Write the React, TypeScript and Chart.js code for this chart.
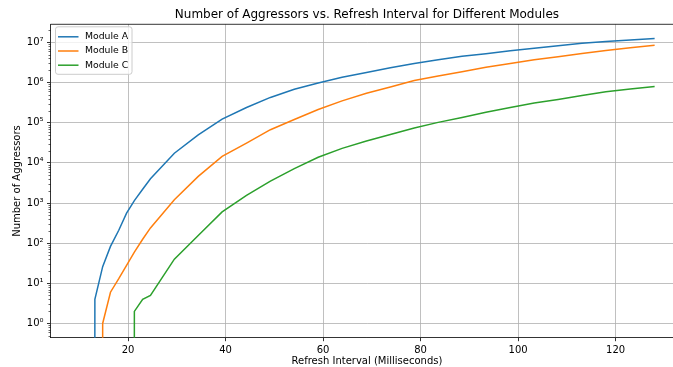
import React, { useEffect, useRef } from "react";
import { Chart, registerables } from "chart.js";

Chart.register(...registerables);

// ---- data ----
const refreshIntervals = [
  10, 11.6, 13.2, 14.8, 16.4, 18.1, 19.7, 21.3, 23.0, 24.6, 29.5, 34.4, 39.3, 44.3, 49.2,
  54.1, 59.0, 63.9, 68.9, 73.8, 78.7, 83.6, 88.5, 93.4, 98.4, 103.3, 108.2, 113.1, 118.0,
  123.0, 128.0,
];
const moduleA = [
  0, 0, 4, 26, 83, 210, 560, 1150, 2200, 4000, 17400, 50000, 123000, 240000, 427000,
  680000, 980000, 1350000, 1780000, 2340000, 3000000, 3700000, 4500000, 5200000, 6200000,
  7200000, 8300000, 9500000, 10500000, 11500000, 12500000,
];
const moduleB = [
  0, 0, 0, 1, 6, 13, 28, 60, 125, 240, 1200, 4600, 14500, 31000, 67000,
  120000, 214000, 350000, 540000, 780000, 1120000, 1450000, 1850000, 2400000, 3000000,
  3700000, 4400000, 5300000, 6300000, 7400000, 8500000,
];
const moduleC = [
  0, 0, 0, 0, 0, 0, 0, 2, 4, 5, 40, 155, 600, 1550, 3500,
  7200, 13800, 23000, 35000, 51000, 74000, 102000, 135000, 182000, 240000,
  309000, 380000, 475000, 590000, 690000, 800000,
];
const seriesLabels = ["Module A", "Module B", "Module C"];
const seriesColors = ["#1f77b4", "#ff7f0e", "#2ca02c"];
const xTicks = [20, 40, 60, 80, 100, 120];
const yDecades = [0, 1, 2, 3, 4, 5, 6, 7];
const superscripts = ["⁰", "¹", "²", "³", "⁴", "⁵", "⁶", "⁷", "⁸", "⁹"];

const titleText = "Number of Aggressors vs. Refresh Interval for Different Modules";
const xTitle = "Refresh Interval (Milliseconds)";
const yTitle = "Number of Aggressors";

// matplotlib-like autoscale (5% margins)
const xDataMin = Math.min(...refreshIntervals);
const xDataMax = Math.max(...refreshIntervals);
const xMargin = 0.05 * (xDataMax - xDataMin);
const positives = [...moduleA, ...moduleB, ...moduleC].filter((v) => v > 0);
const lMin = Math.log10(Math.min(...positives));
const lMax = Math.log10(Math.max(...positives));
const lMargin = 0.05 * (lMax - lMin);

// nonpositive values are clipped to a tiny value like matplotlib's log scale does
const toPoints = (vals: number[]) =>
  refreshIntervals.map((x, i) => ({ x, y: vals[i] > 0 ? vals[i] : 1e-300 }));

const FONT = "DejaVu Sans";

const decorPlugin = {
  id: "decor",
  afterDraw(chart: any) {
    const { ctx, chartArea: a, scales } = chart;
    const y = scales.y;
    ctx.save();
    // top spine
    ctx.strokeStyle = "#000";
    ctx.lineWidth = 0.8;
    ctx.beginPath();
    ctx.moveTo(a.left, a.top);
    ctx.lineTo(a.right, a.top);
    ctx.stroke();
    // minor log ticks
    ctx.lineWidth = 0.6;
    for (let e = -1; e <= 8; e++) {
      for (let m = 2; m <= 9; m++) {
        const v = m * Math.pow(10, e);
        if (v < y.min || v > y.max) continue;
        const py = Math.round(y.getPixelForValue(v)) + 0.5;
        ctx.beginPath();
        ctx.moveTo(a.left - 2, py);
        ctx.lineTo(a.left, py);
        ctx.stroke();
      }
    }
    // legend inside upper-left
    const bx = a.left + 5;
    const by = a.top + 2.5;
    const bw = 76.5;
    const bh = 47.5;
    const r = 2.5;
    ctx.beginPath();
    ctx.moveTo(bx + r, by);
    ctx.lineTo(bx + bw - r, by);
    ctx.quadraticCurveTo(bx + bw, by, bx + bw, by + r);
    ctx.lineTo(bx + bw, by + bh - r);
    ctx.quadraticCurveTo(bx + bw, by + bh, bx + bw - r, by + bh);
    ctx.lineTo(bx + r, by + bh);
    ctx.quadraticCurveTo(bx, by + bh, bx, by + bh - r);
    ctx.lineTo(bx, by + r);
    ctx.quadraticCurveTo(bx, by, bx + r, by);
    ctx.closePath();
    ctx.fillStyle = "rgba(255,255,255,0.8)";
    ctx.fill();
    ctx.strokeStyle = "#cccccc";
    ctx.lineWidth = 1;
    ctx.stroke();
    ctx.font = `9.3px "${FONT}"`;
    ctx.textBaseline = "middle";
    ctx.textAlign = "left";
    chart.data.datasets.forEach((ds: any, i: number) => {
      const ry = by + 10 + i * 14.2;
      ctx.strokeStyle = ds.borderColor;
      ctx.lineWidth = 1.5;
      ctx.beginPath();
      ctx.moveTo(bx + 2.5, ry);
      ctx.lineTo(bx + 23, ry);
      ctx.stroke();
      ctx.fillStyle = "#000";
      ctx.fillText(ds.label, bx + 29.5, ry);
    });
    ctx.restore();
  },
};

export default function App() {
  const canvasRef = useRef<HTMLCanvasElement | null>(null);

  useEffect(() => {
    const canvas = canvasRef.current;
    if (!canvas) return;
    const seriesValues = [moduleA, moduleB, moduleC];
    const chart = new Chart(canvas, {
      type: "line",
      data: {
        datasets: seriesValues.map((vals, i) => ({
          label: seriesLabels[i],
          data: toPoints(vals),
          borderColor: seriesColors[i],
          backgroundColor: seriesColors[i],
          borderWidth: 1.5,
          pointRadius: 0,
          pointHoverRadius: 0,
          tension: 0,
          fill: false,
        })),
      },
      options: {
        responsive: false,
        animation: false,
        events: [],
        layout: { padding: { top: 0, left: 0, right: 6.6, bottom: 0 } },
        plugins: {
          legend: { display: false },
          tooltip: { enabled: false },
          title: {
            display: true,
            text: titleText,
            fullSize: false,
            color: "#000",
            font: { family: FONT, size: 12, weight: "normal" },
            padding: { top: 7.8, bottom: 2.1 },
          },
        },
        scales: {
          x: {
            type: "linear",
            min: xDataMin - xMargin,
            max: xDataMax + xMargin,
            bounds: "data",
            afterBuildTicks: (scale: any) => {
              scale.ticks = xTicks.map((v) => ({ value: v }));
            },
            afterFit: (scale: any) => {
              scale.height = 29.3;
            },
            grid: {
              color: "#b0b0b0",
              lineWidth: 0.8,
              tickColor: "#000",
              tickLength: 3.5,
              tickWidth: 0.8,
            },
            border: { color: "#000", width: 0.8 },
            ticks: {
              color: "#000",
              font: { family: FONT, size: 10 },
              padding: 3.5,
              maxRotation: 0,
              autoSkip: false,
              callback: (v: any) => String(v),
            },
            title: {
              display: true,
              text: xTitle,
              color: "#000",
              font: { family: FONT, size: 10 },
              padding: { top: 0, bottom: 0 },
            },
          },
          y: {
            type: "logarithmic",
            min: Math.pow(10, lMin - lMargin),
            max: Math.pow(10, lMax + lMargin),
            bounds: "data",
            afterBuildTicks: (scale: any) => {
              scale.ticks = yDecades.map((d) => ({ value: Math.pow(10, d) }));
            },
            afterFit: (scale: any) => {
              scale.width = 50.5;
            },
            grid: {
              color: "#b0b0b0",
              lineWidth: 0.8,
              tickColor: "#000",
              tickLength: 3.5,
              tickWidth: 0.8,
            },
            border: { color: "#000", width: 0.8 },
            ticks: {
              color: "#000",
              font: { family: FONT, size: 10 },
              padding: 3.5,
              autoSkip: false,
              callback: (v: any) => "10" + superscripts[Math.round(Math.log10(Number(v)))],
            },
            title: {
              display: true,
              text: yTitle,
              color: "#000",
              font: { family: FONT, size: 10 },
              padding: { top: 11, bottom: 0 },
            },
          },
        },
      },
      plugins: [decorPlugin],
    });
    return () => chart.destroy();
  }, []);

  return (
    <div
      style={{
        position: "fixed",
        left: 0,
        top: 0,
        width: 673,
        height: 367,
        overflow: "hidden",
        background: "#fff",
      }}
    >
      <canvas ref={canvasRef} width={690} height={367} style={{ width: 690, height: 367, display: "block" }} />
    </div>
  );
}
